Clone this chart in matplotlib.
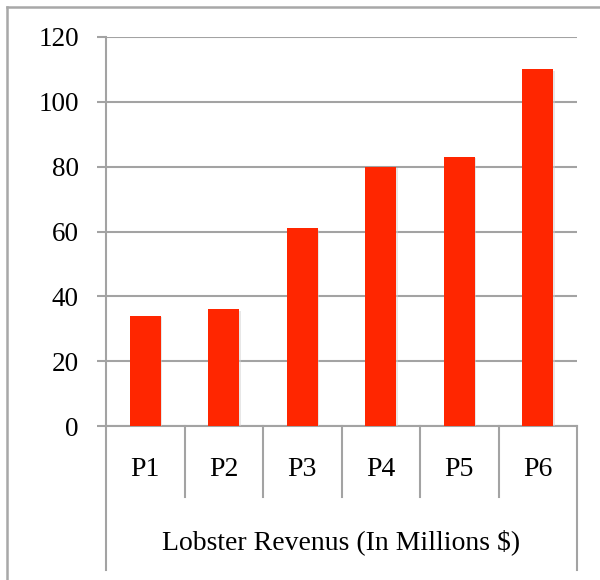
import matplotlib.pyplot as plt
import matplotlib.patheffects as pe
import matplotlib.transforms as mtransforms
from matplotlib.lines import Line2D

# Данные по выручке
periods = ["P1", "P2", "P3", "P4", "P5", "P6"]
revenue = [34, 36, 61, 80, 83, 110]
y_ticks = [0, 20, 40, 60, 80, 100, 120]
axis_title = "Lobster Revenus (In Millions $)"

grid_color = "#a3a3a3"
bar_color = "#ff2600"
plt.rcParams['font.family'] = ['Liberation Serif', 'DejaVu Serif']

fig = plt.figure(figsize=(6, 5.8), dpi=100)
W, H = 600, 580

# Оси в пикселях: левый край 106, ноль на 426, верх на 37, правый край 577
ax = fig.add_axes([106 / W, (H - 426) / H, 471 / W, 389 / H])

x = list(range(len(periods)))
bars = ax.bar(x, revenue, width=0.4, color=bar_color, zorder=3)
for b in bars:
    b.set_path_effects([pe.SimplePatchShadow(offset=(1, -1), shadow_rgbFace="#d0d0d0", alpha=0.5),
                        pe.Normal()])

ax.set_xlim(-0.5, len(periods) - 0.5)
ax.set_ylim(0, 120)
ax.set_yticks(y_ticks)
ax.set_xticks([])
ax.yaxis.grid(True, color=grid_color, linewidth=1.5, zorder=0)
ax.tick_params(axis='y', length=6.5, width=1.5, color=grid_color, pad=13, labelsize=19.5)

for side in ["top", "right"]:
    ax.spines[side].set_visible(False)
for side in ["left", "bottom"]:
    ax.spines[side].set_color(grid_color)
    ax.spines[side].set_linewidth(1.5)

# Таблица категорий под осью
trans = mtransforms.blended_transform_factory(ax.transData, ax.transAxes)
short_y = -71 / 389
long_y = -144 / 389
for k in range(len(periods) + 1):
    xs = k - 0.5
    y_end = long_y if k in (0, len(periods)) else short_y
    ax.add_line(Line2D([xs, xs], [0, y_end], transform=trans, color=grid_color,
                       linewidth=1.5, clip_on=False))

for i, p in enumerate(periods):
    ax.text(i, -43 / 389, p, transform=trans, ha='center', va='center', fontsize=20)

ax.text(0.5, -116 / 389, axis_title, transform=ax.transAxes, ha='center', va='center', fontsize=20)

# Рамка вокруг графика (видны левая и верхняя стороны)
fig.add_artist(Line2D([7 / W, 7 / W], [0, 1 - 7 / H], transform=fig.transFigure,
                      color="#a8a8a8", linewidth=1.8))
fig.add_artist(Line2D([7 / W, 1], [1 - 7 / H, 1 - 7 / H], transform=fig.transFigure,
                      color="#a8a8a8", linewidth=1.8))

plt.savefig("out.png", dpi=100)
